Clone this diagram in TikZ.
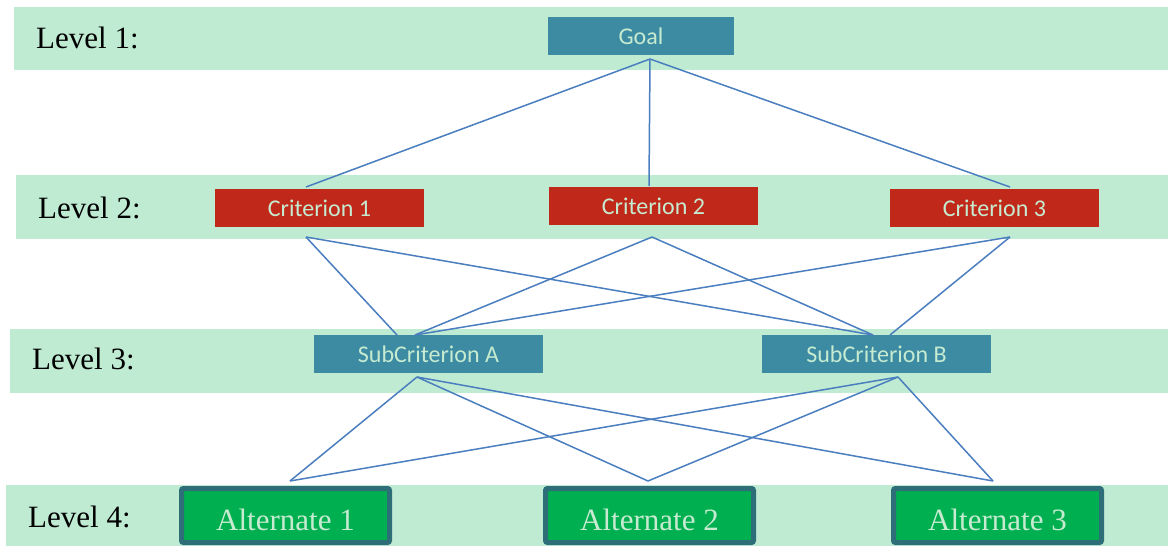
\documentclass[tikz,border=0pt]{standalone}
\usepackage{fontspec}
\setmainfont{Liberation Serif}
\newfontfamily\boxfont{Carlito}
\definecolor{band}{HTML}{BFEBD3}
\definecolor{tealbox}{HTML}{3C8BA2}
\definecolor{redbox}{HTML}{C0291A}
\definecolor{greenbox}{HTML}{00B050}
\definecolor{greenedge}{HTML}{2E6E79}
\definecolor{boxtext}{HTML}{C6EBD1}
\definecolor{link}{HTML}{4A7EBF}
\begin{document}
\begin{tikzpicture}[x=1pt,y=-1pt,
  bandbox/.style={fill=band,draw=none},
  levellabel/.style={anchor=base west,inner sep=0pt,font=\fontsize{31}{36}\selectfont,text=black},
  topbox/.style={rectangle,inner sep=0pt,minimum height=38pt,text=boxtext,
    font=\boxfont\fontsize{24}{28}\selectfont},
  goalbox/.style={topbox,fill=tealbox,minimum width=186pt},
  critbox/.style={topbox,fill=redbox,minimum width=209pt},
  subbox/.style={topbox,fill=tealbox,minimum width=229pt},
  altbox/.style={rectangle,rounded corners=2pt,inner sep=0pt,fill=greenbox,draw=greenedge,
    line width=5pt,minimum width=208pt,minimum height=54pt},
  alttext/.style={text=boxtext,font=\fontsize{31}{36}\selectfont,inner sep=0pt,anchor=base},
  linkline/.style={draw=link,line width=1.5pt}]
\useasboundingbox (0,0) rectangle (1168,546);
\fill[white] (0,0) rectangle (1168,546);

% level bands
\path[bandbox] (14,7) rectangle (1168,70);
\path[bandbox] (16,175) rectangle (1168,239);
\path[bandbox] (10,329) rectangle (1168,393);
\path[bandbox] (6,485) rectangle (1168,546);

% level labels
\node[levellabel] (lv1) at (36,48) {Level 1:};
\node[levellabel] (lv2) at (38,218) {Level 2:};
\node[levellabel] (lv3) at (32,369) {Level 3:};
\node[levellabel] (lv4) at (28,527) {Level 4:};

% hierarchy boxes
\node[goalbox] (goal) at (641,36) {Goal};
\node[critbox] (c1) at (319.5,208) {Criterion 1};
\node[critbox] (c2) at (653.5,206) {Criterion 2};
\node[critbox] (c3) at (994.5,208) {Criterion 3};
\node[subbox] (sa) at (428.5,354) {SubCriterion A};
\node[subbox] (sb) at (876.5,354) {SubCriterion B};
\node[altbox] (a1) at (285.5,515.5) {};
\node[altbox] (a2) at (649.5,515.5) {};
\node[altbox] (a3) at (997.5,515.5) {};
\node[alttext] (a1txt) at (285.5,530) {Alternate 1};
\node[alttext] (a2txt) at (649.5,530) {Alternate 2};
\node[alttext] (a3txt) at (997.5,530) {Alternate 3};

% attachment points of the links
\coordinate (goalB) at (650,59);
\coordinate (c1T) at (306,187);
\coordinate (c1B) at (306,237);
\coordinate (c2T) at (649,186);
\coordinate (c2B) at (652,237);
\coordinate (c3T) at (1010,187);
\coordinate (c3B) at (1010,237);
\coordinate (saT1) at (397,335);
\coordinate (saT) at (415,335);
\coordinate (saB) at (417,377);
\coordinate (sbT) at (873,335);
\coordinate (sbT3) at (890,335);
\coordinate (sbB) at (898,377);
\coordinate (a1T) at (290,481);
\coordinate (a2T) at (648,481);
\coordinate (a3T) at (993,481);

% goal to criteria
\path[linkline] (goalB) -- (c1T);
\path[linkline] (goalB) -- (c2T);
\path[linkline] (goalB) -- (c3T);
% criteria to sub-criteria
\path[linkline] (c1B) -- (saT1);
\path[linkline] (c1B) -- (sbT);
\path[linkline] (c2B) -- (saT);
\path[linkline] (c2B) -- (sbT);
\path[linkline] (c3B) -- (saT);
\path[linkline] (c3B) -- (sbT3);
% sub-criteria to alternates
\path[linkline] (saB) -- (a1T);
\path[linkline] (saB) -- (a2T);
\path[linkline] (saB) -- (a3T);
\path[linkline] (sbB) -- (a1T);
\path[linkline] (sbB) -- (a2T);
\path[linkline] (sbB) -- (a3T);
\end{tikzpicture}
\end{document}
